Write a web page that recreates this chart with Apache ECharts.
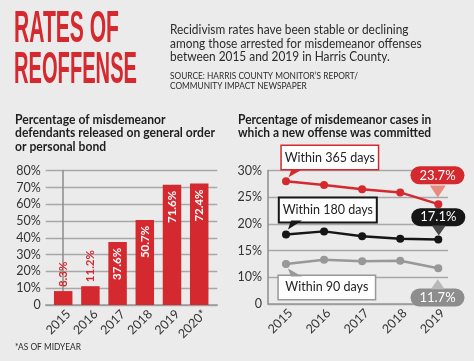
<!DOCTYPE html>
<html><head><meta charset="utf-8">
<script src="https://cdn.jsdelivr.net/npm/echarts@6/dist/echarts.min.js"></script>
<style>html,body{margin:0;padding:0;background:#ebebeb}#c{width:474px;height:361px}</style>
</head><body><div id="c"></div>
<script>
// ---- data ----
const barCategories = ['2015', '2016', '2017', '2018', '2019', '2020*'];
const barValues = [8.3, 11.2, 37.6, 50.7, 71.6, 72.4];
const barTickValues = [0, 10, 20, 30, 40, 50, 60, 70, 80];
const lineYears = [2015, 2016, 2017, 2018, 2019];
const within365 = [28.0, 27.3, 26.5, 25.9, 23.7];
const within180 = [18.0, 18.6, 17.7, 17.2, 17.1];
const within90 = [12.5, 13.3, 13.0, 13.1, 11.7];
const lineTickValues = [5, 10, 15, 20, 25, 30];
const lineTickLabels = ['0', '10%', '15%', '20%', '25%', '30%'];
const seriesNames = ['Within 365 days', 'Within 180 days', 'Within 90 days'];
const headline = ['RATES OF', 'REOFFENSE'];
const intro = ['Recidivism rates have been stable or declining', 'among those arrested for misdemeanor offenses', 'between 2015 and 2019 in Harris County.'];
const source = ["SOURCE: HARRIS COUNTY MONITOR\u2019S REPORT/", 'COMMUNITY IMPACT NEWSPAPER'];
const leftTitle = ['Percentage of misdemeanor', 'defendants released on general order', 'or personal bond'];
const rightTitle = ['Percentage of misdemeanor cases in', 'which a new offense was committed'];
const footnote = '*AS OF MIDYEAR';

const RED = '#d42a2f', BLACK = '#161616', GRAY = '#989898', TXT = '#2b2b2b';
const FF = 'Lato';

const ctx = document.createElement('canvas').getContext('2d');
function measure(t, font) { ctx.font = font; return ctx.measureText(t).width; }
function fitText(t, x, y, font, targetW, fill, scaleOverride) {
  const s = scaleOverride || targetW / measure(t, font);
  return { type: 'text', x: x, y: y, scaleX: s, style: { text: t, font: font, fill: fill, align: 'left', verticalAlign: 'middle' } };
}
const graphics = [];
const hFont = 'bold 44px "Liberation Sans Narrow", "Liberation Sans", sans-serif';
graphics.push(fitText(headline[0], 14, 30, hFont, 105, RED));
graphics.push(fitText(headline[1], 14, 71, hFont, 123, RED));
const pFont = '12.5px ' + FF;
const pScale = 251.7 / measure(intro[1], pFont);
[30, 43.6, 57].forEach((y, i) => graphics.push(fitText(intro[i], 170, y, pFont, 0, TXT, pScale)));
const sFont = '10px ' + FF;
const sScale = 188 / measure(source[0], sFont);
[75.6, 85.8].forEach((y, i) => graphics.push(fitText(source[i], 170, y, sFont, 0, TXT, sScale)));
const tFont = 'bold 12.5px ' + FF;
const tScale = 200 / measure(leftTitle[1], tFont);
[120, 133.4, 146.6].forEach((y, i) => graphics.push(fitText(leftTitle[i], 15, y, tFont, 0, '#1e1e1e', tScale)));
const rScale = 193.3 / measure(rightTitle[0], tFont);
[120, 133.2].forEach((y, i) => graphics.push(fitText(rightTitle[i], 238, y, tFont, 0, '#1e1e1e', rScale)));
graphics.push(fitText(footnote, 15, 346.7, '9.5px ' + FF, 66, TXT));

// ---- series ----
const barData = barValues.map((v, i) => {
  const small = v < 20;
  return {
    value: [i, v],
    label: small
      ? { show: true, position: 'top', rotate: 90, align: 'left', verticalAlign: 'middle', distance: 4, color: RED }
      : { show: true, position: 'insideTop', rotate: 90, align: 'right', verticalAlign: 'middle', distance: 6, color: '#fff' }
  };
});

function boxLabel(text, border, offset, bw) {
  return { show: true, position: 'inside', offset: offset, formatter: text, backgroundColor: '#fff', borderColor: border, borderWidth: bw,
    padding: [4, 6], width: 84, align: 'center', verticalAlign: 'middle', fontFamily: FF, fontSize: 12.5, lineHeight: 15, color: '#222' };
}
function pillLabel(bg, offset) {
  return { show: true, position: 'inside', offset: offset, formatter: p => p.value[1].toFixed(1) + '%', backgroundColor: bg, borderRadius: 9,
    padding: [2, 6], width: 42, align: 'center', verticalAlign: 'middle', fontFamily: FF, fontSize: 13, lineHeight: 14, color: '#fff' };
}
function lineData(vals, first, last) {
  return lineYears.map((y, i) => {
    const d = { value: [y, vals[i]] };
    if (i === 0) d.label = first;
    if (i === vals.length - 1) d.label = last;
    return d;
  });
}
const triDown = 'path://M0,8L3,0L14,0Z';
const triUp = 'path://M0,0L3,8L14,8Z';
const pillDown = 'path://M0,0L16,0L8,12Z';
const pillUp = 'path://M8,0L16,12L0,12Z';
function mp(vals, sym, size, off, color, idx) {
  return { coord: [lineYears[idx], vals[idx]], symbol: sym, symbolSize: size, symbolOffset: off, symbolKeepAspect: false, itemStyle: { color: color }, label: { show: false } };
}
function lineSeries(name, vals, color, first, last, marks) {
  return { type: 'line', name: name, xAxisIndex: 1, yAxisIndex: 1, data: lineData(vals, first, last), symbol: 'circle', symbolSize: 8,
    lineStyle: { color: color, width: 2.5 }, itemStyle: { color: color }, z: 3, label: { show: false },
    markPoint: { silent: true, animation: false, data: marks } };
}

const axisLabelBase = { fontFamily: FF, fontSize: 12.5, color: '#333' };
const option = {
  animation: false,
  backgroundColor: '#ebebeb',
  textStyle: { fontFamily: FF },
  graphic: graphics,
  grid: [
    { left: 45.7, right: 474 - 217.3, top: 170.7, bottom: 361 - 305 },
    { left: 268, right: 474 - 448, top: 170.5, bottom: 361 - 304 }
  ],
  xAxis: [
    { type: 'value', gridIndex: 0, min: -0.643, max: 5.665, splitLine: { show: false }, axisTick: { show: false },
      axisLine: { show: true, lineStyle: { color: '#999', width: 1.5 } },
      axisLabel: Object.assign({}, axisLabelBase, { customValues: barCategories.map((c, i) => i + 0.2), formatter: v => barCategories[Math.round(v)], rotate: 45, margin: 7 }) },
    { type: 'value', gridIndex: 1, min: 2014.527, max: 2019.255, splitLine: { show: false }, axisTick: { show: false },
      axisLine: { show: true, lineStyle: { color: '#999', width: 1.5 } },
      axisLabel: Object.assign({}, axisLabelBase, { customValues: lineYears.map(y => y + 0.12), formatter: v => String(Math.round(v)), rotate: 45, margin: 7 }) }
  ],
  yAxis: [
    { type: 'value', gridIndex: 0, min: 0, max: 80, interval: 10,
      axisLine: { show: true, lineStyle: { color: '#8c8c8c', width: 1.5 } }, axisTick: { show: false },
      splitLine: { lineStyle: { color: '#a8a8a8', width: 1.3 } },
      axisLabel: Object.assign({}, axisLabelBase, { margin: 5, formatter: v => (v === 0 ? '0' : v + '%') }) },
    { type: 'value', gridIndex: 1, min: 5, max: 30, interval: 5,
      axisLine: { show: true, lineStyle: { color: '#8c8c8c', width: 1.5 } }, axisTick: { show: false },
      splitLine: { lineStyle: { color: '#a8a8a8', width: 1.3 } },
      axisLabel: Object.assign({}, axisLabelBase, { margin: 6, formatter: v => lineTickLabels[lineTickValues.indexOf(v)] }) }
  ],
  series: [
    { type: 'bar', xAxisIndex: 0, yAxisIndex: 0, data: barData, barWidth: 18.5, itemStyle: { color: RED },
      label: { fontFamily: FF, fontSize: 11.5, fontWeight: 'bold', formatter: p => p.value[1].toFixed(1) + '%' } },
    lineSeries(seriesNames[0], within365, RED, boxLabel(seriesNames[0], RED, [43.8, -23.7], 1.5), pillLabel(RED, [-0.8, -28.8]),
      [mp(within365, triDown, [14, 8], [9.5, -8], RED, 0), mp(within365, pillDown, [16, 12], [-0.5, -12.6], '#e98a80', 4)]),
    lineSeries(seriesNames[1], within180, BLACK, boxLabel(seriesNames[1], BLACK, [41.8, -24.6], 2), pillLabel(BLACK, [0, -22.2]),
      [mp(within180, triDown, [14, 9], [9, -9.6], BLACK, 0), mp(within180, pillDown, [14, 10], [0.5, -9], '#4a4a4a', 4)]),
    lineSeries(seriesNames[2], within90, GRAY, boxLabel(seriesNames[2], GRAY, [40.8, 23.5], 1.5), pillLabel('#8d8d8d', [-0.8, 29.3]),
      [mp(within90, triUp, [14, 8], [9, 8.5], GRAY, 0), mp(within90, pillUp, [14, 10], [-0.5, 16], '#b8b8b8', 4)])
  ]
};
const chart = echarts.init(document.getElementById('c'), null, { renderer: 'canvas' });
chart.setOption(option);
</script></body></html>
